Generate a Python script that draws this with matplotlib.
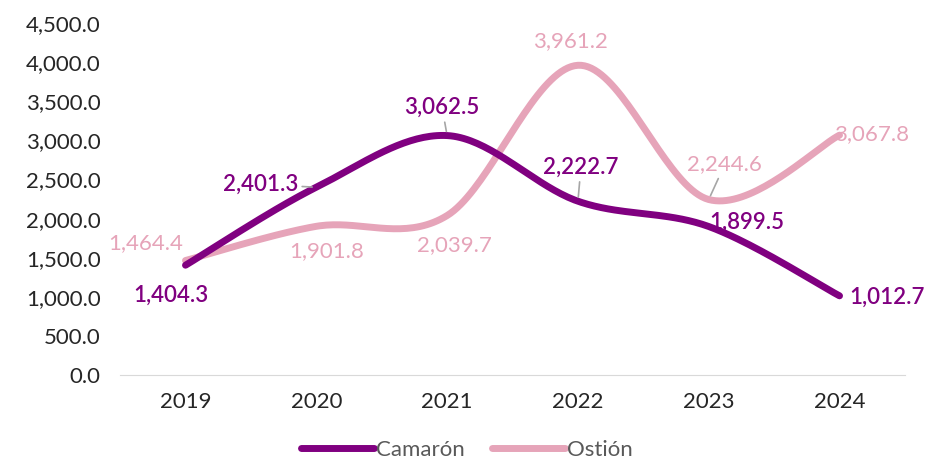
import numpy as np
import matplotlib.pyplot as plt

# datos
anios = ['2019', '2020', '2021', '2022', '2023', '2024']
camaron = [1404.3, 2401.3, 3062.5, 2222.7, 1899.5, 1012.7]
ostion = [1464.4, 1901.8, 2039.7, 3961.2, 2244.6, 3067.8]

morado = '#800080'
rosa = '#E6A4B9'
gris = '#595959'

plt.rcParams['font.family'] = ['Lato', 'DejaVu Sans']


def suavizar(y, n=40):
    # curva tipo Excel (Bezier / Catmull-Rom) entre los puntos
    x = np.arange(len(y), dtype=float)
    y = np.asarray(y, dtype=float)
    px = np.concatenate([[x[0]], x, [x[-1]]])
    py = np.concatenate([[y[0]], y, [y[-1]]])
    xs, ys = [], []
    t = np.linspace(0, 1, n)
    for i in range(1, len(px) - 2):
        p0 = np.array([px[i], py[i]])
        p3 = np.array([px[i + 1], py[i + 1]])
        c1 = p0 + (np.array([px[i + 1], py[i + 1]]) - np.array([px[i - 1], py[i - 1]])) / 6
        c2 = p3 - (np.array([px[i + 2], py[i + 2]]) - np.array([px[i], py[i]])) / 6
        b = ((1 - t) ** 3)[:, None] * p0 + (3 * (1 - t) ** 2 * t)[:, None] * c1 \
            + (3 * (1 - t) * t ** 2)[:, None] * c2 + (t ** 3)[:, None] * p3
        xs.extend(b[:, 0])
        ys.extend(b[:, 1])
    return xs, ys


fig = plt.figure(figsize=(9.31, 4.63), dpi=100)
ax = fig.add_axes([0.129, 0.19, 0.843, 0.76])

xc, yc = suavizar(camaron)
xo, yo = suavizar(ostion)
ax.plot(xc, yc, color=morado, lw=5, solid_capstyle='round', label='Camarón', zorder=3)
ax.plot(xo, yo, color=rosa, lw=5, solid_capstyle='round', label='Ostión', zorder=2)

# etiquetas (desplazamiento en pixeles, linea guia o no)
off_cam = [(-15, -30, False), (-56, 3, True), (-5, 28, True), (3, 34, True), (38, 4, False), (47, -1, False)]
off_ost = [(-40, 17, False), (10, -25, False), (7, -30, False), (-7, 24, False), (16, 35, True), (32, 1, False)]

def etiquetar(vals, offs, color, peso):
    for i, (v, (dx, dy, guia)) in enumerate(zip(vals, offs)):
        ap = dict(arrowstyle='-', color='#A6A6A6', lw=1.2, shrinkA=1, shrinkB=3) if guia else None
        ax.annotate(f'{v:,.1f}', (i, v), xytext=(dx, dy), textcoords='offset pixels',
                    ha='center', va='center', color=color, fontsize=16,
                    fontweight=peso, arrowprops=ap, zorder=5)

etiquetar(camaron, off_cam, morado, 'semibold')
etiquetar(ostion, off_ost, rosa, 'normal')

ax.set_xlim(-0.5, 5.5)
ax.set_ylim(0, 4500)
ax.set_yticks(np.arange(0, 4501, 500))
ax.set_yticklabels([f'{v:,.1f}' for v in np.arange(0, 4501, 500)])
ax.set_xticks(range(len(anios)))
ax.set_xticklabels(anios)
ax.tick_params(axis='both', length=0, labelsize=16, labelcolor='#262626')
ax.tick_params(axis='x', pad=12)
ax.tick_params(axis='y', pad=14)
for s in ['top', 'right', 'left']:
    ax.spines[s].set_visible(False)
ax.spines['bottom'].set_color('#D9D9D9')

ax.legend(loc='center', bbox_to_anchor=(0.442, -0.212), ncol=2, frameon=False,
          fontsize=16, labelcolor=gris, handlelength=3.3, handletextpad=0.1, columnspacing=1.2)

fig.savefig('out.png', dpi=100)
